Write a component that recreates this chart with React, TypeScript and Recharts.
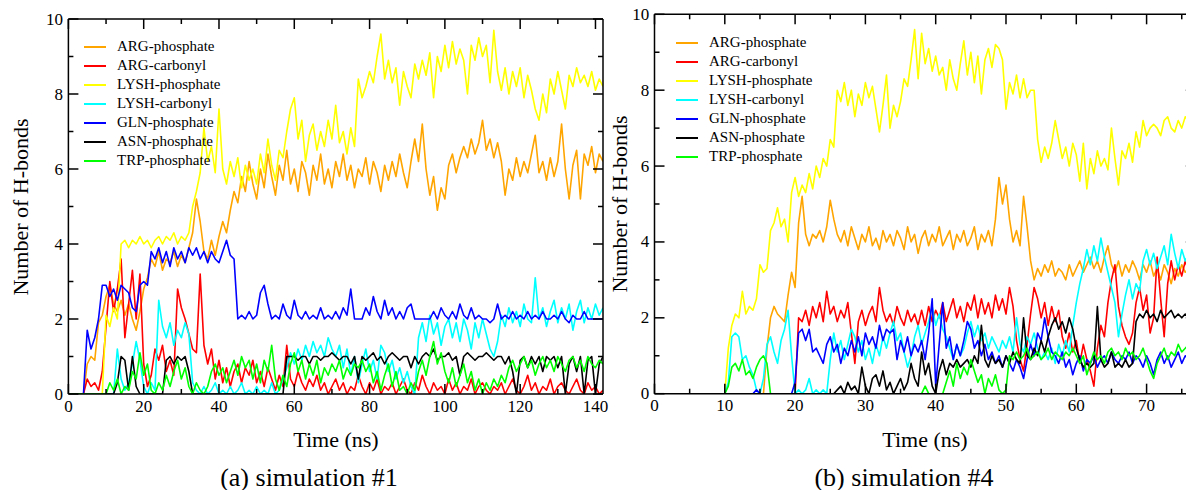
import React from 'react';
import { LineChart, Line, XAxis, YAxis, Legend } from 'recharts';

const FONT = '"Liberation Serif", "Times New Roman", serif';

const SERIES_NAMES = ['ARG-phosphate', 'ARG-carbonyl', 'LYSH-phosphate', 'LYSH-carbonyl', 'GLN-phosphate', 'ASN-phosphate', 'TRP-phosphate'];
const SERIES_KEYS = ['argP', 'argC', 'lysP', 'lysC', 'glnP', 'asnP', 'trpP'];
const SERIES_COLORS = ['#FFA500', '#FF0000', '#FFFF00', '#00FFFF', '#0000FF', '#000000', '#00FF00'];

// ---------- (a) simulation #1 : one sample per ns, t = 0 … 142 ----------
const SIM1_STEP_NS = 1;
const SIM1_ARG_P = [
  0, 0, 0, 0, 0, 0.8, 1.0, 0.9, 1.9, 2.1,
  2.6, 2.9, 2.4, 2.2, 2.5, 2.1, 2.4, 2.0, 1.7, 2.2,
  2.8, 3.1, 3.6, 3.4, 3.8, 3.3, 3.6, 3.5, 3.8, 3.4,
  3.7, 3.5, 3.9, 4.3, 5.2, 4.6, 3.8, 3.6, 4.1, 3.7,
  4.2, 4.6, 4.3, 4.9, 5.4, 5.1, 5.8, 5.4, 6.2, 5.6,
  5.2, 6.0, 5.5, 6.4, 5.8, 5.3, 6.1, 5.7, 6.5, 5.6,
  6.0, 5.4, 6.2, 5.9, 5.3, 6.1, 5.7, 6.4, 5.6, 6.0,
  5.5, 6.2, 5.8, 6.4, 5.7, 6.1, 5.5, 6.0, 5.8, 6.3,
  5.6, 6.2, 5.9, 5.4, 6.1, 5.7, 6.2, 5.8, 6.4, 5.9,
  5.5, 6.2, 6.8, 6.2, 7.2, 6.0, 5.3, 5.8, 4.9, 5.5,
  5.2, 6.1, 6.4, 5.9, 6.3, 6.6, 6.3, 6.8, 6.4, 6.7,
  7.3, 6.5, 6.8, 6.3, 6.7, 6.2, 5.3, 6.0, 5.7, 6.3,
  5.8, 6.2, 5.9, 6.4, 6.9, 5.9, 6.2, 5.7, 6.3, 5.8,
  6.2, 7.2, 6.0, 5.2, 6.1, 6.5, 5.2, 6.4, 6.1, 6.6,
  5.9, 6.4, 6.2,
];
const SIM1_ARG_C = [
  0, 0, 0, 0, 0, 0.4, 0.2, 0.3, 0.1, 0.6,
  1.8, 3.0, 2.2, 2.8, 3.6, 1.5, 2.4, 3.3, 2.0, 3.2,
  0.8, 0.2, 0.5, 1.2, 0.9, 1.3, 0.6, 0.9, 0.5, 2.8,
  2.3, 2.0, 1.6, 1.2, 1.1, 3.2, 1.3, 0.8, 1.2, 0.4,
  0.9, 0.3, 0.7, 0.2, 0.6, 0.8, 0.3, 0.7, 0.5, 0.9,
  0.3, 0.6, 0.2, 0.7, 0.4, 0.1, 0.5, 0.2, 1.3, 0.4,
  0.2, 0.6, 0.3, 0.1, 0.4, 0.2, 0.5, 0.1, 0.3, 0.0,
  0.2, 0.4, 0.1, 0.3, 0.0, 0.2, 0.1, 0.5, 0.2, 0.0,
  0.3, 0.1, 0.4, 0.0, 0.2, 0.1, 0.3, 0.0, 0.2, 0.4,
  0.1, 0.0, 0.3, 0.1, 0.5, 0.2, 0.0, 0.3, 0.1, 0.2,
  0.0, 0.4, 0.1, 0.3, 0.0, 0.2, 0.1, 0.4, 0.0, 0.2,
  0.3, 0.1, 0.0, 0.2, 0.1, 0.3, 0.0, 0.2, 0.4, 0.1,
  0.0, 0.2, 0.5, 0.1, 0.3, 0.0, 0.2, 0.1, 0.4, 0.0,
  0.2, 0.3, 0.1, 0.0, 0.2, 0.4, 0.1, 0.0, 0.3, 0.1,
  0.2, 0.0, 0.1,
];
const SIM1_LYS_P = [
  0, 0, 0, 0, 0, 0, 0, 0, 0, 0,
  2.1, 1.8, 2.3, 2.0, 4.0, 4.1, 3.9, 4.1, 4.0, 4.2,
  4.0, 4.1, 3.9, 4.1, 4.2, 4.0, 4.2, 4.1, 4.3, 4.0,
  4.2, 4.1, 4.3, 5.0, 5.4, 5.9, 7.1, 6.2, 6.6, 5.9,
  7.6, 6.0, 5.6, 6.2, 5.8, 6.3, 5.5, 6.1, 5.7, 6.0,
  5.6, 6.4, 5.9, 6.8, 6.1, 5.7, 6.5, 6.3, 7.0, 7.6,
  7.9, 6.8, 7.3, 6.2, 6.9, 7.2, 6.5, 7.0, 6.6, 7.3,
  6.8, 7.7, 6.7, 7.0, 6.4, 7.1, 6.6, 8.4, 7.9, 8.2,
  8.6, 8.3, 9.0, 9.6, 8.4, 8.9, 8.3, 8.7, 7.7, 8.6,
  8.2, 7.9, 8.8, 8.4, 8.9, 8.5, 9.1, 7.9, 9.0, 8.6,
  9.3, 8.7, 9.4, 8.8, 9.2, 8.9, 8.0, 9.3, 8.9, 9.5,
  9.0, 9.3, 8.3, 9.7, 8.6, 8.1, 8.7, 8.0, 8.6, 8.2,
  8.7, 7.9, 8.5, 8.1, 7.6, 7.3, 8.0, 7.5, 8.4, 8.0,
  8.6, 8.1, 7.6, 8.5, 8.2, 8.7, 8.3, 8.5, 8.2, 8.6,
  8.1, 8.4, 8.2,
];
const SIM1_LYS_C = [
  0, 0, 0, 0, 0, 0, 0, 0, 0, 0,
  0, 0, 0, 1.2, 0.4, 0.1, 0.3, 0.8, 1.4, 0.9,
  0.2, 0.0, 0.3, 0.1, 2.5, 1.8, 1.5, 1.9, 1.3, 1.7,
  1.5, 1.9, 1.6, 0.3, 0.1, 0.0, 0.2, 0.0, 0.1, 0.3,
  0.0, 0.1, 0.0, 0.2, 0.0, 0.1, 0.3, 0.0, 0.1, 0.0,
  0.2, 0.0, 0.1, 0.0, 0.3, 0.0, 0.1, 0.4, 0.7, 1.1,
  0.8, 1.2, 0.9, 1.3, 1.0, 1.4, 1.1, 1.3, 1.0, 1.5,
  1.2, 1.0, 1.3, 0.7, 1.2, 0.5, 1.0, 0.3, 0.8, 1.2,
  0.6, 0.9, 0.4, 1.3, 1.1, 0.6, 0.9, 0.4, 0.7, 0.3,
  0.6, 0.2, 0.0, 1.5, 1.9, 1.4, 2.1, 1.6, 1.9, 1.3,
  1.8, 2.0, 1.5, 1.9, 1.4, 2.0, 1.7, 1.2, 1.9, 1.5,
  2.0, 1.6, 1.2, 1.0, 1.4, 2.1, 1.8, 2.3, 1.9, 2.2,
  1.8, 2.4, 2.0, 1.9, 3.1, 2.0, 2.3, 1.8, 2.2, 2.5,
  1.9, 2.3, 2.0, 2.4, 1.7, 2.2, 2.5, 1.9, 2.3, 2.0,
  2.4, 2.1, 2.3,
];
const SIM1_GLN_P = [
  0, 0, 0, 0, 0, 1.7, 1.2, 1.5, 2.0, 2.9,
  2.9, 2.6, 2.8, 2.5, 2.9, 2.8, 2.7, 2.3, 2.2, 2.9,
  3.0, 2.9, 3.8, 3.6, 3.9, 3.5, 3.8, 3.4, 3.9, 3.6,
  3.8, 3.5, 3.9, 3.7, 3.9, 3.6, 3.8, 3.5, 3.8, 3.6,
  3.5, 3.8, 4.1, 3.7, 3.6, 2.0, 2.1, 2.0, 2.2, 2.0,
  2.1, 2.7, 2.9, 2.4, 2.0, 2.1, 2.0, 2.4, 2.1, 2.0,
  2.5, 2.1, 2.0, 2.2, 2.0, 2.1, 2.0, 2.3, 2.0, 2.1,
  2.0, 2.2, 2.0, 2.3, 2.1, 2.8, 2.0, 2.0, 2.0, 2.3,
  2.1, 2.6, 2.2, 2.0, 2.5, 2.1, 2.3, 2.0, 2.2, 2.0,
  2.3, 2.4, 2.0, 2.0, 2.0, 2.0, 2.0, 2.2, 2.0, 2.3,
  2.1, 2.0, 2.2, 2.0, 2.4, 2.1, 2.0, 2.3, 2.0, 2.1,
  2.0, 2.0, 1.9, 2.0, 2.4, 2.0, 2.1, 2.0, 2.2, 2.0,
  2.1, 2.0, 2.2, 2.0, 2.1, 2.0, 2.2, 2.0, 2.0, 2.1,
  2.0, 2.2, 2.0, 1.9, 2.1, 2.0, 2.0, 2.2, 2.0, 2.0,
  2.0, 2.0, 2.0,
];
const SIM1_ASN_P = [
  0, 0, 0, 0, 0, 0, 0, 0, 0, 0,
  0, 0, 0, 0.3, 1.0, 0.9, 0.1, 1.0, 0.2, 0,
  0, 0, 0, 0, 0, 0, 0.9, 1.0, 0.8, 1.0,
  0.9, 1.0, 0.6, 0, 0, 0, 0, 0, 0, 0,
  0, 0, 0, 0, 0, 0, 0, 0, 0, 0,
  0, 0, 0, 0, 0, 0, 0, 0, 1.0, 1.0,
  1.0, 0.9, 1.0, 1.0, 0.8, 1.0, 1.0, 0.9, 1.0, 1.0,
  1.1, 1.0, 0.9, 1.0, 1.0, 0.8, 1.0, 0.4, 1.0, 0.9,
  1.0, 1.1, 0.9, 1.0, 0.8, 1.0, 1.1, 1.0, 0.9, 1.0,
  1.0, 0.7, 1.0, 0.8, 1.0, 1.1, 1.0, 1.2, 0.9, 1.0,
  1.0, 1.1, 0.9, 1.0, 0.5, 1.0, 1.1, 1.0, 0.9, 1.0,
  1.0, 1.1, 1.0, 0.9, 1.0, 1.0, 0.8, 1.0, 0.6, 0.0,
  0.9, 1.0, 0.7, 1.0, 0.8, 1.0, 0.6, 1.0, 0.9, 1.0,
  0.7, 1.0, 0.0, 0.8, 1.0, 0.6, 1.0, 0.0, 0.9, 1.0,
  0.0, 0.8, 1.0,
];
const SIM1_TRP_P = [
  0, 0, 0, 0, 0, 0, 0, 0, 0, 0,
  0, 0.3, 0.1, 0.4, 0.0, 0.2, 0.1, 0.6, 0.4, 1.1,
  0.5, 0.8, 0.1, 0.0, 0.3, 0.1, 0.5, 0.2, 0.6, 0.9,
  0.4, 0.7, 0.2, 0.0, 0.3, 0.1, 0.0, 0.2, 0.6, 0.8,
  0.5, 0.7, 0.3, 0.6, 0.9, 0.5, 1.0, 0.7, 0.9, 0.4,
  0.8, 0.3, 0.9, 0.6, 1.3, 0.4, 0.1, 0.5, 0.2, 0.8,
  1.1, 0.6, 0.9, 0.4, 0.8, 0.5, 0.9, 0.3, 0.7, 0.5,
  0.8, 0.6, 0.9, 0.4, 0.7, 0.5, 0.8, 0.7, 0.9, 0.6,
  0.8, 0.3, 0.6, 0.1, 0.5, 0.8, 0.2, 0.6, 0.1, 0.2,
  0.0, 0.3, 0.1, 0.6, 0.9, 0.5, 1.0, 1.4, 0.8, 1.1,
  0.6, 0.3, 0.7, 0.2, 0.5, 0.8, 0.3, 0.6, 0.1, 0.4,
  0.0, 0.3, 0.1, 0.4, 0.2, 0.5, 0.3, 0.7, 0.9, 0.6,
  0.8, 1.0, 0.7, 0.9, 0.5, 0.8, 1.0, 0.7, 0.9, 0.6,
  1.0, 0.8, 0.6, 0.9, 1.0, 0.7, 0.9, 0.6, 1.0, 0.8,
  0.7, 0.9, 0.8,
];

// ---------- (b) simulation #4 : one sample per 0.5 ns, t = 0 … 76 ----------
const SIM4_STEP_NS = 0.5;
const SIM4_ARG_P = [
  0, 0, 0, 0, 0, 0, 0, 0, 0, 0,
  0, 0, 0, 0, 0, 0, 0, 0, 0, 0,
  0, 0, 0, 0, 0, 0, 0, 0, 0, 0,
  0, 0, 1.2, 2.0, 2.3, 2.1, 2.0, 1.9, 2.6, 3.2,
  2.8, 4.5, 5.2, 4.2, 3.9, 4.2, 4.1, 4.3, 4.0, 4.4,
  5.1, 4.6, 4.2, 4.0, 4.3, 3.9, 4.4, 4.1, 3.8, 4.2,
  4.0, 4.4, 3.9, 4.1, 3.8, 4.3, 4.0, 4.2, 3.9, 4.3,
  4.1, 3.8, 4.4, 4.0, 4.2, 3.7, 4.1, 4.3, 3.9, 4.2,
  4.0, 4.4, 3.9, 4.1, 4.3, 3.8, 4.2, 4.0, 4.3, 3.9,
  4.1, 4.4, 3.8, 4.2, 4.0, 4.3, 3.9, 4.6, 5.7, 5.0,
  5.5, 4.6, 4.0, 4.3, 3.9, 5.2, 4.4, 3.5, 3.0, 3.3,
  3.1, 3.4, 3.2, 3.5, 3.1, 3.3, 3.2, 3.0, 3.4, 3.1,
  3.3, 3.5, 3.2, 3.4, 3.6, 3.3, 3.5, 3.2, 3.6, 3.9,
  3.4, 3.2, 3.5, 3.1, 3.4, 3.2, 3.5, 3.3, 3.0, 3.4,
  3.2, 3.5, 3.1, 3.3, 3.0, 3.4, 3.2, 2.9, 3.3, 3.1,
  3.4, 3.2, 3.3,
];
const SIM4_ARG_C = [
  0, 0, 0, 0, 0, 0, 0, 0, 0, 0,
  0, 0, 0, 0, 0, 0, 0, 0, 0, 0,
  0, 0, 0, 0, 0, 0, 0, 0, 0, 0,
  0, 0, 0, 0, 0, 0, 0, 0, 0, 0,
  0.0, 2.0, 1.9, 2.2, 1.8, 2.3, 2.0, 2.4, 1.9, 2.7,
  2.1, 2.3, 1.9, 2.2, 2.0, 2.4, 1.6, 0.8, 1.9, 2.2,
  1.8, 2.1, 2.3, 1.9, 2.8, 2.2, 1.9, 2.1, 1.8, 2.3,
  2.0, 1.8, 2.2, 1.9, 2.1, 1.8, 2.2, 1.8, 2.3, 1.9,
  2.2, 2.0, 2.4, 1.9, 2.2, 2.5, 2.0, 2.3, 1.9, 2.4,
  2.2, 2.6, 2.0, 2.5, 2.1, 2.4, 2.0, 2.6, 2.2, 2.5,
  2.1, 2.8, 2.3, 1.4, 0.9, 0.6, 1.3, 2.1, 2.8, 2.5,
  2.0, 2.4, 1.8, 2.3, 1.9, 2.2, 1.5, 1.2, 1.6, 1.1,
  1.4, 0.8, 1.3, 0.9, 0.6, 0.2, 1.2, 1.8, 1.5, 2.4,
  3.0, 3.4, 2.3, 1.8, 1.5, 1.3, 1.6, 2.4, 2.8, 2.2,
  2.6, 1.6, 2.0, 3.6, 2.5, 1.5, 2.9, 3.5, 3.0, 3.4,
  3.1, 3.5, 3.2,
];
const SIM4_LYS_P = [
  0, 0, 0, 0, 0, 0, 0, 0, 0, 0,
  0, 0, 0, 0, 0, 0, 0, 0, 0, 0,
  0, 1.2, 1.8, 2.1, 2.0, 2.7, 2.1, 2.3, 2.2, 2.5,
  3.4, 3.2, 3.3, 4.3, 4.5, 4.9, 4.4, 4.6, 4.0, 5.3,
  5.7, 5.2, 5.5, 5.3, 5.8, 5.4, 6.0, 5.7, 6.2, 6.0,
  6.7, 6.5, 8.0, 7.7, 8.2, 7.6, 8.0, 7.3, 7.9, 7.6,
  8.2, 7.8, 8.1, 7.5, 6.9, 7.6, 8.4, 7.0, 7.6, 7.3,
  7.7, 8.3, 8.1, 8.8, 9.6, 8.3, 9.5, 8.7, 9.1, 8.5,
  8.9, 8.4, 8.6, 8.0, 8.8, 8.3, 8.0, 8.7, 9.3, 8.4,
  9.0, 8.2, 8.9, 7.9, 8.8, 9.1, 8.6, 9.2, 9.1, 8.8,
  7.5, 8.2, 7.9, 8.4, 7.8, 8.3, 7.8, 8.0, 8.0, 6.7,
  6.1, 6.5, 6.2, 6.6, 7.2, 6.7, 6.2, 6.5, 6.0, 6.6,
  6.3, 5.6, 6.6, 5.4, 6.2, 5.8, 6.4, 6.0, 6.2, 5.9,
  7.0, 6.2, 5.5, 6.4, 6.2, 6.6, 6.1, 6.9, 6.5, 7.2,
  6.8, 7.0, 7.1, 7.0, 6.8, 7.2, 7.3, 7.0, 6.9, 7.2,
  7.0, 7.3, 7.2,
];
const SIM4_LYS_C = [
  0, 0, 0, 0, 0, 0, 0, 0, 0, 0,
  0, 0, 0, 0, 0, 0, 0, 0, 0, 0,
  0, 0.3, 1.5, 1.6, 1.5, 0.9, 1.0, 0.7, 0.5, 0.1,
  0.0, 0.4, 1.3, 1.5, 1.1, 0.8, 1.4, 1.7, 2.2, 1.0,
  0.0, 0.1, 0.0, 0.1, 0.4, 0.0, 0.1, 0.0, 0.1, 0.0,
  0.9, 1.6, 1.1, 1.4, 0.9, 1.3, 1.7, 1.5, 1.1, 1.4,
  0.9, 1.2, 0.8, 1.3, 1.0, 1.5, 1.2, 1.6, 1.9, 1.4,
  1.6, 1.1, 0.7, 1.0, 1.5, 1.8, 1.3, 1.6, 1.9, 2.3,
  1.8, 2.1, 1.7, 1.5, 1.2, 0.9, 1.3, 1.0, 1.2, 1.6,
  1.9, 1.5, 1.8, 1.4, 1.6, 1.2, 1.5, 1.3, 1.1, 1.4,
  1.2, 1.5, 1.1, 2.0, 1.3, 1.1, 1.5, 1.3, 1.6, 1.2,
  0.9, 1.1, 0.9, 1.2, 0.8, 1.3, 1.0, 1.4, 1.1, 1.8,
  2.4, 2.9, 3.3, 3.8, 3.4, 3.9, 3.5, 4.1, 3.6, 3.2,
  2.8, 2.4, 1.5, 2.1, 2.6, 3.0, 2.5, 2.9, 2.7, 3.5,
  3.8, 3.4, 3.7, 3.3, 3.6, 3.9, 3.4, 4.2, 3.7, 3.3,
  3.8, 3.5, 3.7,
];
const SIM4_GLN_P = [
  0, 0, 0, 0, 0, 0, 0, 0, 0, 0,
  0, 0, 0, 0, 0, 0, 0, 0, 0, 0,
  0, 0, 0, 0, 0, 0, 0, 0, 0, 0.1,
  0, 0, 0, 0, 0, 0, 0, 0, 0, 0,
  0.3, 1.6, 1.7, 1.4, 1.7, 1.1, 1.2, 1.0, 0.8, 1.3,
  1.5, 1.1, 1.3, 0.8, 1.2, 1.0, 1.4, 1.1, 1.5, 1.0,
  1.6, 1.3, 1.5, 1.2, 1.8, 1.4, 1.7, 1.6, 1.7, 0.9,
  1.4, 1.1, 1.5, 1.0, 1.3, 1.1, 1.4, 0.9, 1.6, 2.5,
  0.2, 1.3, 2.4, 1.2, 1.5, 0.9, 1.3, 1.0, 1.4, 1.9,
  1.7, 1.2, 1.4, 1.0, 1.3, 0.9, 1.1, 0.8, 1.0, 0.7,
  1.0, 0.8, 0.6, 0.9, 0.7, 0.4, 0.9, 1.3, 1.0, 1.6,
  1.4, 2.0, 1.5, 1.1, 1.0, 0.8, 1.1, 0.7, 0.9, 0.5,
  0.8, 1.0, 0.6, 0.9, 0.8, 1.0, 0.7, 0.9, 1.0, 0.8,
  1.1, 0.9, 0.8, 1.0, 0.9, 1.1, 0.8, 1.0, 0.9, 0.7,
  1.0, 0.8, 0.5, 0.9, 1.1, 0.8, 1.0, 0.7, 0.9, 1.1,
  0.8, 1.0, 0.9,
];
const SIM4_ASN_P = [
  0, 0, 0, 0, 0, 0, 0, 0, 0, 0,
  0, 0, 0, 0, 0, 0, 0, 0, 0, 0,
  0, 0, 0, 0, 0, 0, 0, 0, 0, 0,
  0, 0, 0, 0, 0, 0, 0, 0, 0, 0,
  0, 0, 0, 0, 0, 0, 0, 0, 0, 0,
  0, 0, 0.1, 0.2, 0.0, 0.3, 0.1, 0.2, 0.0, 0.7,
  0.2, 0.0, 0.4, 0.5, 0.2, 0.6, 0.1, 0.3, 0.0, 0.2,
  0.4, 0.1, 0.3, 0.8, 0.4, 0.2, 1.1, 0.5, 0.8, 0.2,
  0.0, 0.6, 0.9, 0.5, 0.8, 0.7, 0.9, 0.7, 0.8, 0.9,
  0.7, 1.0, 0.8, 1.8, 0.9, 0.7, 1.0, 0.8, 0.9, 0.7,
  1.0, 0.8, 1.1, 0.9, 0.8, 2.0, 1.0, 0.9, 1.2, 1.0,
  1.4, 1.1, 1.5, 1.8, 2.0, 1.7, 1.9, 1.6, 2.0, 1.7,
  1.2, 0.9, 0.7, 0.8, 0.7, 0.8, 2.3, 0.9, 0.7, 0.8,
  1.1, 0.7, 0.8, 0.7, 0.9, 0.7, 0.8, 1.9, 2.1, 2.0,
  2.2, 2.0, 2.1, 1.9, 2.2, 2.0, 2.1, 2.2, 2.0, 2.1,
  2.0, 2.1, 2.0,
];
const SIM4_TRP_P = [
  0, 0, 0, 0, 0, 0, 0, 0, 0, 0,
  0, 0, 0, 0, 0, 0, 0, 0, 0, 0,
  0, 0.2, 0.7, 0.8, 0.6, 0.9, 0.5, 0.6, 0.4, 0.7,
  0.9, 1.0, 0.8, 0.0, 0, 0, 0, 0, 0, 0,
  0, 0, 0, 0, 0, 0, 0, 0, 0, 0,
  0, 0, 0, 0, 0, 0, 0, 0, 0, 0,
  0, 0, 0, 0, 0, 0, 0, 0, 0, 0,
  0, 0, 0, 0, 0, 0, 0, 0.2, 0, 0,
  0, 0, 0, 0.3, 0.6, 0.2, 0.8, 0.4, 0.7, 0.5,
  0.9, 0.6, 0.3, 0.5, 0.0, 0.4, 0.2, 0.5, 0.1, 0.0,
  0.1, 1.0, 0.9, 1.1, 0.9, 1.0, 1.2, 0.9, 1.0, 1.1,
  0.9, 1.0, 1.2, 0.9, 1.1, 1.0, 0.9, 1.1, 1.0, 1.2,
  1.0, 0.8, 1.0, 0.5, 0.8, 1.1, 0.9, 1.0, 0.8, 1.1,
  1.2, 1.0, 1.1, 0.9, 1.2, 1.0, 1.1, 0.9, 1.0, 1.2,
  0.9, 0.6, 0.4, 0.8, 1.0, 1.2, 0.9, 1.1, 1.0, 1.3,
  1.1, 1.2, 1.3,
];

// ---------- axes ----------
const SIM1_X_MAX = 142;
const SIM1_X_TICKS = [0, 10, 20, 30, 40, 50, 60, 70, 80, 90, 100, 110, 120, 130, 140];
const SIM1_X_LABEL_EVERY = 20;
const SIM4_X_MAX = 77;
const SIM4_X_TICKS = [0, 5, 10, 15, 20, 25, 30, 35, 40, 45, 50, 55, 60, 65, 70, 75];
const SIM4_X_LABEL_EVERY = 10;
const Y_MAX = 10;
const Y_TICKS = [0, 1, 2, 3, 4, 5, 6, 7, 8, 9, 10];
const Y_LABEL_EVERY = 2;

function buildRows(step: number, cols: number[][]) {
  return cols[0].map((_, i) => {
    const row: Record<string, number> = { t: i * step };
    SERIES_KEYS.forEach((k, j) => {
      row[k] = cols[j][i];
    });
    return row;
  });
}

const SIM1_DATA = buildRows(SIM1_STEP_NS, [SIM1_ARG_P, SIM1_ARG_C, SIM1_LYS_P, SIM1_LYS_C, SIM1_GLN_P, SIM1_ASN_P, SIM1_TRP_P]);
const SIM4_DATA = buildRows(SIM4_STEP_NS, [SIM4_ARG_P, SIM4_ARG_C, SIM4_LYS_P, SIM4_LYS_C, SIM4_GLN_P, SIM4_ASN_P, SIM4_TRP_P]);

function isMajor(v: number, every: number) {
  return Math.abs(v / every - Math.round(v / every)) < 1e-6;
}

// Axis boxes are 1px thick; the custom tick draws the inward tick mark and the label.
function makeTick(side: 'bottom' | 'top' | 'left' | 'right', every: number) {
  return (props: any) => {
    const { x, y, payload } = props;
    const v = payload.value as number;
    const major = isMajor(v, every);
    const len = major ? 10 : 5;
    let x2 = x;
    let y2 = y;
    if (side === 'bottom') y2 = y - len;
    if (side === 'top') y2 = y + len;
    if (side === 'left') x2 = x + len;
    if (side === 'right') x2 = x - len;
    return (
      <g>
        <line x1={x} y1={y} x2={x2} y2={y2} stroke="#000" strokeWidth={1.5} />
        {major && side === 'bottom' && (
          <text x={x} y={y + 12} textAnchor="middle" dominantBaseline="central" fontFamily={FONT} fontSize={17} fill="#000">
            {v}
          </text>
        )}
        {major && side === 'left' && (
          <text x={x - 5.3} y={y} textAnchor="end" dominantBaseline="central" fontFamily={FONT} fontSize={17} fill="#000">
            {v}
          </text>
        )}
      </g>
    );
  };
}

const renderLegend = (props: any) => {
  const items = [...((props && props.payload) || [])].sort(
    (a: any, b: any) => SERIES_NAMES.indexOf(a.value) - SERIES_NAMES.indexOf(b.value),
  );
  return (
    <div style={{ fontFamily: FONT, fontSize: 15, color: '#000' }}>
      {items.map((it: any) => (
        <div key={it.value} style={{ display: 'flex', alignItems: 'center', height: 19.05, whiteSpace: 'nowrap' }}>
          <svg width={22} height={4} style={{ display: 'block' }}>
            <line x1={0} y1={2} x2={22} y2={2} stroke={it.color} strokeWidth={2} />
          </svg>
          <span style={{ marginLeft: 11, lineHeight: '19px' }}>{it.value}</span>
        </div>
      ))}
    </div>
  );
};

type PanelProps = {
  data: Record<string, number>[];
  xMax: number;
  xTicks: number[];
  xLabelEvery: number;
  width: number;
  plot: { top: number; right: number; bottom: number; left: number };
  legendLeft: number;
  legendTop: number;
};

function Panel({ data, xMax, xTicks, xLabelEvery, width, plot, legendLeft, legendTop }: PanelProps) {
  const axisLine = { stroke: '#000', strokeWidth: 1.5 };
  const AX = 1;
  const margin = { top: plot.top - AX, right: plot.right - AX, bottom: plot.bottom - AX, left: plot.left - AX };
  return (
    <LineChart width={width} height={490} data={data} margin={margin}>
      {SERIES_KEYS.map((k, j) => (
        <Line
          key={k}
          type="linear"
          dataKey={k}
          name={SERIES_NAMES[j]}
          stroke={SERIES_COLORS[j]}
          strokeWidth={1.6}
          strokeLinejoin="round"
          dot={false}
          activeDot={false}
          isAnimationActive={false}
        />
      ))}
      <XAxis
        dataKey="t"
        type="number"
        domain={[0, xMax]}
        ticks={xTicks}
        allowDataOverflow
        interval={0}
        height={AX}
        tickSize={0}
        tickMargin={0}
        tickLine={false}
        axisLine={axisLine}
        tick={makeTick('bottom', xLabelEvery)}
      />
      <XAxis
        xAxisId="top"
        orientation="top"
        dataKey="t"
        type="number"
        domain={[0, xMax]}
        ticks={xTicks}
        allowDataOverflow
        interval={0}
        height={AX}
        tickSize={0}
        tickMargin={0}
        tickLine={false}
        axisLine={axisLine}
        tick={makeTick('top', xLabelEvery)}
      />
      <YAxis
        type="number"
        domain={[0, Y_MAX]}
        ticks={Y_TICKS}
        allowDataOverflow
        interval={0}
        width={AX}
        tickSize={0}
        tickMargin={0}
        tickLine={false}
        axisLine={axisLine}
        tick={makeTick('left', Y_LABEL_EVERY)}
      />
      <YAxis
        yAxisId="right"
        orientation="right"
        type="number"
        domain={[0, Y_MAX]}
        ticks={Y_TICKS}
        allowDataOverflow
        interval={0}
        width={AX}
        tickSize={0}
        tickMargin={0}
        tickLine={false}
        axisLine={axisLine}
        tick={makeTick('right', Y_LABEL_EVERY)}
      />
      <Legend
        layout="vertical"
        align="center"
        verticalAlign="middle"
        content={renderLegend}
        wrapperStyle={{ left: legendLeft, top: legendTop, width: 'auto', height: 'auto', margin: 0 }}
      />
    </LineChart>
  );
}

export default function App() {
  const titleStyle = { fontFamily: FONT, fill: '#000' } as const;
  return (
    <div style={{ position: 'relative', width: 1186, height: 490, overflow: 'hidden', background: '#fff' }}>
      <style>{'html,body{margin:0;padding:0;overflow:hidden;background:#fff}'}</style>
      <div style={{ position: 'absolute', left: 600, top: 0 }}>
        <Panel
          data={SIM4_DATA}
          xMax={SIM4_X_MAX}
          xTicks={SIM4_X_TICKS}
          xLabelEvery={SIM4_X_LABEL_EVERY}
          width={620}
          plot={{ top: 14.3, right: 24.2, bottom: 96.3, left: 54.5 }}
          legendLeft={76}
          legendTop={33.2}
        />
      </div>
      <div style={{ position: 'absolute', left: 0, top: 0 }}>
        <Panel
          data={SIM1_DATA}
          xMax={SIM1_X_MAX}
          xTicks={SIM1_X_TICKS}
          xLabelEvery={SIM1_X_LABEL_EVERY}
          width={620}
          plot={{ top: 19, right: 17, bottom: 96, left: 68.4 }}
          legendLeft={84}
          legendTop={37.2}
        />
      </div>
      <svg width={1186} height={490} style={{ position: 'absolute', left: 0, top: 0, pointerEvents: 'none' }}>
        <text transform="translate(20.5,207) rotate(-90)" textAnchor="middle" dominantBaseline="central" fontSize={22} {...titleStyle}>
          Number of H-bonds
        </text>
        <text transform="translate(619.8,204) rotate(-90)" textAnchor="middle" dominantBaseline="central" fontSize={22} {...titleStyle}>
          Number of H-bonds
        </text>
        <text x={336} y={439} textAnchor="middle" dominantBaseline="central" fontSize={22} {...titleStyle}>
          Time (ns)
        </text>
        <text x={925} y={439} textAnchor="middle" dominantBaseline="central" fontSize={22} {...titleStyle}>
          Time (ns)
        </text>
        <text x={309} y={477} textAnchor="middle" dominantBaseline="central" fontSize={26} {...titleStyle}>
          (a) simulation #1
        </text>
        <text x={904} y={477} textAnchor="middle" dominantBaseline="central" fontSize={26} {...titleStyle}>
          (b) simulation #4
        </text>
      </svg>
    </div>
  );
}
